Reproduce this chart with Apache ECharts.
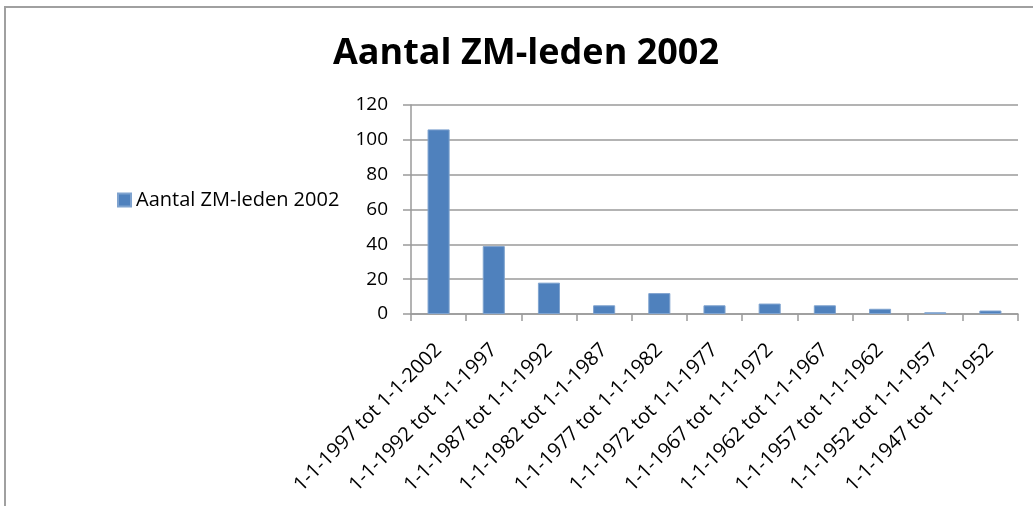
<!DOCTYPE html>
<html>
<head>
<meta charset="utf-8">
<script src="https://cdn.jsdelivr.net/npm/echarts@6/dist/echarts.min.js"></script>
<style>
  html, body { margin: 0; padding: 0; background: #fff; }
  #chart { width: 1033px; height: 506px; }
</style>
</head>
<body>
<div id="chart"></div>
<script>
const categories = [
  '1-1-1997 tot 1-1-2002',
  '1-1-1992 tot 1-1-1997',
  '1-1-1987 tot 1-1-1992',
  '1-1-1982 tot 1-1-1987',
  '1-1-1977 tot 1-1-1982',
  '1-1-1972 tot 1-1-1977',
  '1-1-1967 tot 1-1-1972',
  '1-1-1962 tot 1-1-1967',
  '1-1-1957 tot 1-1-1962',
  '1-1-1952 tot 1-1-1957',
  '1-1-1947 tot 1-1-1952'
]
const leden = [106, 39, 18, 5, 12, 5, 6, 5, 3, 1, 2]

const font = "'Open Sans', sans-serif"
const grey = '#9a9a9a'

let chart = echarts.init(document.getElementById('chart'))

const option = {
  animation: false,
  textStyle: { fontFamily: font },
  title: {
    text: 'Aantal ZM-leden 2002',
    left: 328,
    top: 31,
    textStyle: {
      fontFamily: font,
      fontSize: 36,
      fontWeight: 'bold',
      color: '#000'
    }
  },
  legend: {
    left: 112,
    top: 185,
    itemWidth: 13,
    itemHeight: 13,
    itemGap: 6,
    icon: 'rect',
    textStyle: { fontFamily: font, fontSize: 20, color: '#000' }
  },
  grid: {
    left: 411,
    right: 15,
    top: 105,
    bottom: 192
  },
  xAxis: {
    type: 'category',
    data: categories,
    axisLine: { lineStyle: { color: grey, width: 1.5 } },
    axisTick: { show: true, length: 7, lineStyle: { color: grey, width: 1.5 } },
    axisLabel: {
      rotate: 45,
      interval: 0,
      margin: 33,
      fontFamily: font,
      fontSize: 20,
      color: '#000'
    }
  },
  yAxis: {
    type: 'value',
    min: 0,
    max: 120,
    interval: 20,
    axisLine: { show: true, lineStyle: { color: grey, width: 1.5 } },
    axisTick: { show: true, length: 8, lineStyle: { color: grey, width: 1.5 } },
    splitLine: { lineStyle: { color: grey, width: 1.5 } },
    axisLabel: {
      margin: 23,
      fontFamily: font,
      fontSize: 19,
      color: '#000'
    }
  },
  graphic: [
    {
      type: 'rect',
      shape: { x: 5, y: 7, width: 2000, height: 2000 },
      style: { fill: 'none', stroke: '#a0a0a0', lineWidth: 2 },
      silent: true
    }
  ],
  series: [
    {
      name: 'Aantal ZM-leden 2002',
      type: 'bar',
      data: leden,
      barCategoryGap: '60%',
      itemStyle: { color: '#4f81bd', borderColor: '#7fa3cf', borderWidth: 1 }
    }
  ]
}

chart.setOption(option)
</script>
</body>
</html>
